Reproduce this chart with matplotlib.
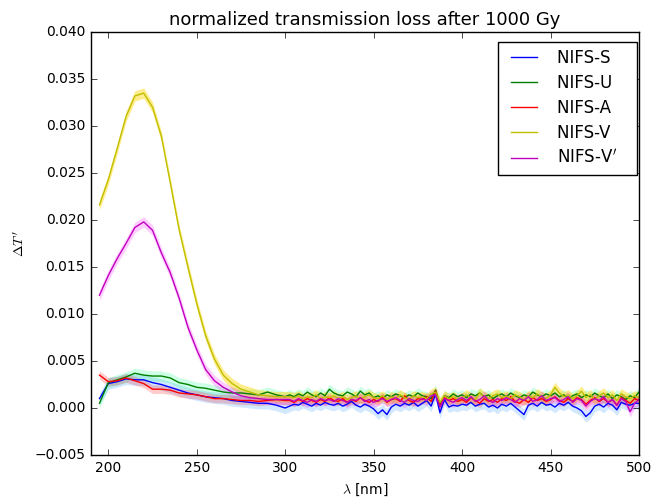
import numpy as np
import matplotlib
matplotlib.use("Agg")
import matplotlib.pyplot as plt

plt.style.use('classic')

# wavelength grid: coarse in the smooth part, finer in the noisy tail
wl = np.concatenate([np.arange(195, 301, 5), np.arange(302.5, 500.1, 2.5)])

# normalized transmission loss, in units of 1e-3
nifs_s = [1.0, 2.6, 2.8, 3.1, 3.0, 3.0, 2.7, 2.5, 2.2, 1.9, 1.6, 1.4, 1.2, 1.1, 1.0, 0.8, 0.7, 0.6, 0.5, 0.5, 0.3, 0.0,
          0.2, 0.4, 0.3, 0.6, 0.4, 0.2, 0.5, 0.3, 0.6, 0.4,
          0.3, 0.5, 0.2, 0.4, 0.7, 0.3, 0.1, 0.4, 0.2, -0.1,
          -0.6, -0.2, -0.7, 0.1, 0.4, 0.2, 0.5, 0.3, 0.6, 0.2,
          0.5, 0.8, 0.2, 1.5, -0.5, 0.9, 0.1, 0.3, 0.2, 0.4,
          0.3, 0.6, 0.2, 0.4, 0.5, 0.1, 0.3, 0.0, 0.4, 0.2,
          0.5, 0.1, -0.3, -0.7, 0.3, 0.5, 0.2, 0.6, 0.3, 0.4,
          0.1, 0.5, 0.3, 0.6, 0.2, 0.0, -0.3, -0.9, -0.5, 0.2,
          0.4, 0.1, 0.5, 0.3, -0.2, 0.6, 0.4, 0.3, 0.5, 0.5]
nifs_u = [0.5, 2.7, 3.0, 3.3, 3.7, 3.5, 3.4, 3.4, 3.2, 2.7, 2.5, 2.2, 2.1, 1.9, 1.7, 1.6, 1.6, 1.5, 1.4, 1.7, 1.4, 1.2,
          1.4, 1.2, 1.5, 1.3, 1.7, 1.4, 1.2, 1.6, 1.3, 2.0,
          1.6, 1.4, 1.3, 1.7, 1.5, 1.2, 1.8, 1.4, 1.6, 1.1,
          1.3, 1.0, 1.4, 1.2, 1.5, 1.3, 1.1, 1.4, 1.2, 1.6,
          1.3, 1.2, 1.0, 1.9, 0.3, 1.3, 1.1, 1.5, 1.2, 1.4,
          1.1, 1.5, 1.3, 1.6, 1.2, 1.4, 1.0, 1.3, 1.5, 1.2,
          1.6, 1.3, 1.1, 1.4, 1.2, 1.7, 1.4, 1.2, 1.5, 1.3,
          1.6, 1.2, 1.4, 1.0, 1.3, 1.5, 1.1, 1.4, 1.2, 1.6,
          1.3, 1.1, 1.5, 1.0, 1.4, 1.2, 0.9, 1.3, 1.1, 1.7]
nifs_a = [3.5, 2.8, 2.9, 3.2, 2.9, 2.6, 2.0, 2.0, 1.9, 1.6, 1.5, 1.4, 1.2, 1.0, 1.0, 0.9, 0.8, 0.8, 0.7, 0.8, 0.9, 0.8,
          0.8, 0.6, 0.9, 0.7, 1.0, 0.8, 0.6, 0.9, 0.7, 1.1,
          0.8, 0.7, 1.0, 0.6, 0.9, 0.7, 1.1, 0.8, 0.6, 0.9,
          0.7, 1.2, 0.6, 0.9, 1.0, 0.7, 1.3, 0.8, 0.6, 1.0,
          0.9, 1.2, 0.7, 1.8, 0.2, 1.1, 0.8, 1.0, 0.7, 0.9,
          0.6, 1.1, 0.8, 0.5, 1.0, 0.7, 0.9, 0.6, 1.0, 0.8,
          1.2, 0.7, 0.5, 0.9, 0.6, 1.1, 0.8, 1.0, 0.7, 0.9,
          1.2, 0.8, 0.6, 1.0, 0.7, 1.1, 0.9, 0.4, 0.8, 1.1,
          0.7, 1.0, 0.6, 0.9, 0.3, 1.1, 0.8, 0.5, 1.0, 0.8]
nifs_v = [21.6, 24.3, 27.6, 31.0, 33.2, 33.5, 32.0, 28.9, 24.0, 19.0, 15.0, 11.1, 7.7, 5.2, 3.5, 2.6, 2.0, 1.7, 1.4, 1.3, 1.2, 1.2,
          1.2, 1.1, 1.3, 1.0, 1.2, 1.1, 1.4, 1.0, 1.2, 1.1,
          1.3, 1.0, 1.2, 0.9, 1.1, 1.3, 1.0, 1.2, 1.4, 1.1,
          1.0, 1.3, 0.9, 1.2, 1.0, 1.4, 1.1, 0.9, 1.3, 1.1,
          1.2, 1.0, 1.5, 1.7, 0.6, 1.3, 1.0, 1.2, 0.9, 1.1,
          1.4, 1.1, 0.9, 1.6, 1.2, 1.0, 1.3, 1.5, 1.1, 1.3,
          1.0, 1.4, 1.2, 0.9, 1.3, 1.1, 1.5, 1.2, 1.0, 1.4,
          2.2, 1.6, 1.2, 1.4, 1.0, 1.3, 1.8, 1.1, 1.4, 0.9,
          1.3, 1.6, 1.1, 1.4, 0.8, 1.5, 1.2, 1.0, 1.3, 1.1]
nifs_vp = [12.0, 14.1, 15.9, 17.5, 19.2, 19.8, 18.9, 16.5, 14.4, 11.7, 8.6, 6.2, 4.1, 2.9, 2.2, 1.7, 1.3, 1.1, 1.0, 0.9, 0.9, 0.9,
           0.9, 0.7, 1.0, 0.8, 0.6, 0.9, 0.7, 1.0, 0.8, 0.9,
           0.7, 1.0, 0.8, 0.6, 0.9, 0.8, 1.1, 0.7, 0.9, 0.6,
           0.8, 1.0, 0.7, 0.9, 1.1, 0.8, 0.6, 1.0, 0.8, 0.7,
           1.0, 0.8, 1.3, 1.4, 0.1, 1.0, 0.8, 0.6, 0.9, 1.1,
           0.8, 1.2, 0.7, 0.9, 1.3, 0.8, 0.6, 1.0, 0.8, 1.1,
           0.9, 0.6, 1.0, 0.8, 1.2, 0.7, 0.9, 1.3, 0.8, 1.0,
           1.1, 0.7, 0.9, 1.2, 0.6, 1.0, 0.8, 0.2, 0.7, 1.0,
           0.8, 1.2, 0.6, 0.9, 0.3, 1.0, 0.7, -0.4, 0.5, 0.9]

labels = ['NIFS-S', 'NIFS-U', 'NIFS-A', 'NIFS-V', r'NIFS-V$^\prime$']
series = [nifs_s, nifs_u, nifs_a, nifs_v, nifs_vp]
# half width of the shaded uncertainty band, units of 1e-3
band = [0.6, 0.55, 0.45, 0.55, 0.55]
line_colors = ['b', 'g', 'r', 'y', 'm']
band_colors = ['dodgerblue', 'springgreen', 'red', 'gold', 'magenta']
band_alpha = [0.2, 0.2, 0.2, 0.45, 0.2]

fig = plt.figure(figsize=(6.52, 4.97), dpi=100)
ax = fig.add_subplot(111)
fig.subplots_adjust(left=0.139, right=0.980, bottom=0.0845, top=0.9356)

for y, lab, e, lc, bc, ba in zip(series, labels, band, line_colors, band_colors, band_alpha):
    y = np.array(y) * 1e-3
    ax.fill_between(wl, y - e * 1e-3, y + e * 1e-3, color=bc, alpha=ba, linewidth=0)
    ax.plot(wl, y, color=lc, label=lab + '   ', linewidth=1.0)

ax.set_xlim(190, 500)
ax.set_ylim(-0.005, 0.040)
ax.set_xticks([200, 250, 300, 350, 400, 450, 500])
ax.set_yticks(np.arange(-0.005, 0.0401, 0.005))
ax.tick_params(labelsize=10)
ax.set_xlabel(r'$\lambda$ [nm]', fontsize=10)
ax.set_ylabel(r'$\Delta T^{\,\prime}$', fontsize=10)
ax.set_title('normalized transmission loss after 1000 Gy', fontsize=13)
ax.legend(loc='upper right', bbox_to_anchor=(1.0, 0.981), borderaxespad=0.1,
          fontsize=12, handlelength=2.2, handletextpad=0.9, borderpad=0.45,
          labelspacing=0.42)

fig.savefig('out.png', dpi=100)
